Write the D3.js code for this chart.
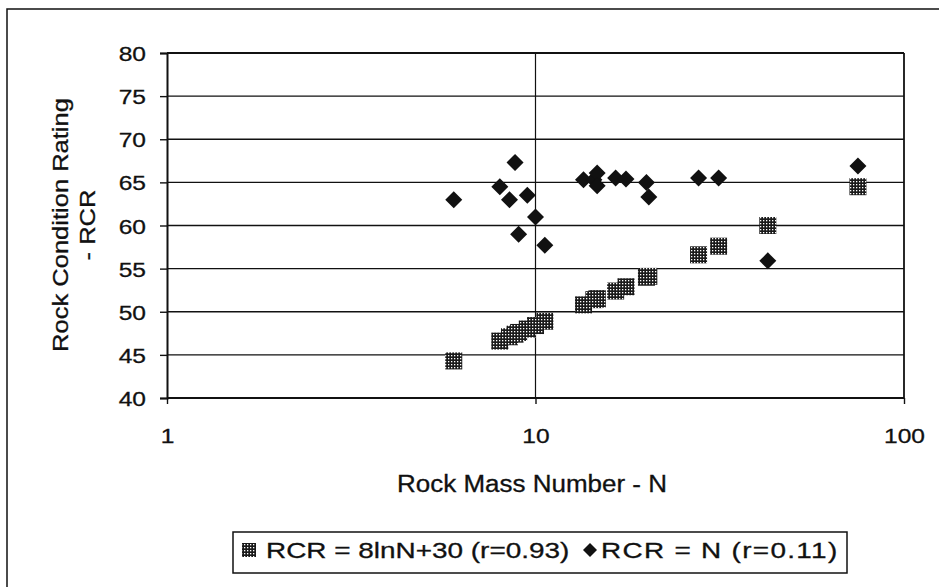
<!DOCTYPE html>
<html>
<head>
<script src="https://cdn.jsdelivr.net/npm/d3@7"></script>
<style>
  body { margin: 0; background: #fff; }
  svg { display: block; }
  text { font-family: "Liberation Sans", Arial, sans-serif; fill: #111; stroke: #111; stroke-width: 0.3px; }
</style>
</head>
<body>
<svg width="939" height="587"></svg>
<script>
// values
var nValues   = [6, 8, 8.5, 8.8, 9, 9.5, 10, 10.6, 13.5, 14.4, 14.7, 14.7, 16.5, 17.6, 20, 20.3, 27.7, 31.4, 42.7, 75];
var rcrFit    = [44.3, 46.6, 47.1, 47.4, 47.6, 48.0, 48.4, 48.9, 50.8, 51.4, 51.5, 51.5, 52.4, 52.9, 54.0, 54.1, 56.6, 57.6, 60.0, 64.5];
var rcrMeas   = [63, 64.5, 63, 67.3, 59, 63.5, 61, 57.7, 65.3, 65.3, 66.1, 64.6, 65.5, 65.4, 65.0, 63.3, 65.5, 65.5, 55.9, 66.9];
var yTicks    = [40, 45, 50, 55, 60, 65, 70, 75, 80];
var xTicks    = [1, 10, 100];
var legendLabels = ["RCR = 8lnN+30 (r=0.93)", "RCR = N (r=0.11)"];

var svg = d3.select("svg");
var pLeft = 167, pRight = 904, pTop = 53, pBottom = 398;
var stretch = 1.17; // scan is a bit wider than tall

var x = d3.scaleLog().domain([1, 100]).range([pLeft, pRight]);
var y = d3.scaleLinear().domain([40, 80]).range([pBottom, pTop]);

// dithered fill for the squares
var defs = svg.append("defs");
var pat = defs.append("pattern").attr("id", "dither")
    .attr("width", 3).attr("height", 3).attr("patternUnits", "userSpaceOnUse");
pat.append("rect").attr("width", 3).attr("height", 3).attr("fill", "#1a1a1a");
pat.append("rect").attr("x", 1).attr("y", 1).attr("width", 1.3).attr("height", 1.3).attr("fill", "#fff");

// outer chart frame (runs off the right edge in the scan)
svg.append("path").attr("d", "M7,587 V9 H939").attr("fill", "none").attr("stroke", "#111").attr("stroke-width", 1.5);

// horizontal gridlines
svg.append("g").selectAll("line").data(yTicks).enter().append("line")
    .attr("x1", pLeft).attr("x2", pRight)
    .attr("y1", function(d) { return y(d); }).attr("y2", function(d) { return y(d); })
    .attr("stroke", "#111").attr("stroke-width", function(d) { return d === 40 || d === 80 ? 2 : 1.4; });

// vertical decade gridline + right edge
svg.append("line").attr("x1", x(10)).attr("x2", x(10)).attr("y1", pTop).attr("y2", pBottom)
    .attr("stroke", "#111").attr("stroke-width", 1.2);
svg.append("line").attr("x1", pRight).attr("x2", pRight).attr("y1", pTop).attr("y2", pBottom)
    .attr("stroke", "#111").attr("stroke-width", 1.8);

// y axis
var yAxis = svg.append("g").attr("transform", "translate(" + pLeft + ",0)")
    .call(d3.axisLeft(y).tickValues(yTicks).tickSize(7).tickPadding(14));
yAxis.select(".domain").attr("stroke", "#111").attr("stroke-width", 2);
yAxis.selectAll(".tick line").attr("stroke", "#111").attr("stroke-width", 1.4);
yAxis.selectAll(".tick text").attr("font-size", 21).attr("font-family", null).attr("fill", "#111")
    .attr("x", -21 / stretch).attr("dy", "0.36em").attr("transform", "scale(" + stretch + ",1)");

// x axis
var xAxis = svg.append("g").attr("transform", "translate(0," + pBottom + ")")
    .call(d3.axisBottom(x).tickValues(xTicks).tickFormat(d3.format("d")).tickSize(6).tickPadding(24));
xAxis.select(".domain").remove();
xAxis.selectAll(".tick line").attr("stroke", "#111").attr("stroke-width", 1.4);
xAxis.selectAll(".tick text").attr("font-size", 21).attr("font-family", null).attr("fill", "#111")
    .attr("transform", "scale(" + stretch + ",1)");

// axis titles
svg.append("text").attr("transform", "translate(68,225) rotate(-90) scale(1.16,1)")
    .attr("text-anchor", "middle").attr("font-size", 22).text("Rock Condition Rating");
svg.append("text").attr("transform", "translate(95,225) rotate(-90) scale(1.16,1)")
    .attr("text-anchor", "middle").attr("font-size", 22).text("- RCR");
svg.append("text").attr("transform", "translate(532,492) scale(1.13,1)")
    .attr("text-anchor", "middle").attr("font-size", 23).text("Rock Mass Number - N");

var diamond = "M0,-8.5 L8.5,0 L0,8.5 L-8.5,0 Z";

// fitted series: dithered squares
svg.append("g").selectAll("rect").data(nValues).enter().append("rect")
    .attr("x", function(d) { return x(d) - 8.5; })
    .attr("y", function(d, i) { return y(rcrFit[i]) - 8.5; })
    .attr("width", 17).attr("height", 17)
    .attr("fill", "url(#dither)");

// measured series: black diamonds
svg.append("g").selectAll("path").data(nValues).enter().append("path")
    .attr("d", diamond)
    .attr("transform", function(d, i) { return "translate(" + x(d) + "," + y(rcrMeas[i]) + ")"; })
    .attr("fill", "#111");

// legend
var lg = svg.append("g");
lg.append("rect").attr("x", 233).attr("y", 532).attr("width", 614).attr("height", 41)
    .attr("fill", "#fff").attr("stroke", "#111").attr("stroke-width", 1.5);
lg.append("rect").attr("x", 242).attr("y", 543).attr("width", 14).attr("height", 14).attr("fill", "url(#dither)");
lg.append("text").attr("transform", "translate(266,558) scale(1.27,1)").attr("font-size", 22).text(legendLabels[0]);
lg.append("path").attr("d", "M0,-7 L7,0 L0,7 L-7,0 Z").attr("transform", "translate(590,550)").attr("fill", "#111");
lg.append("text").attr("transform", "translate(601,558) scale(1.27,1)").attr("font-size", 22)
    .attr("textLength", 186).attr("lengthAdjust", "spacing").text(legendLabels[1]);
</script>
</body>
</html>
